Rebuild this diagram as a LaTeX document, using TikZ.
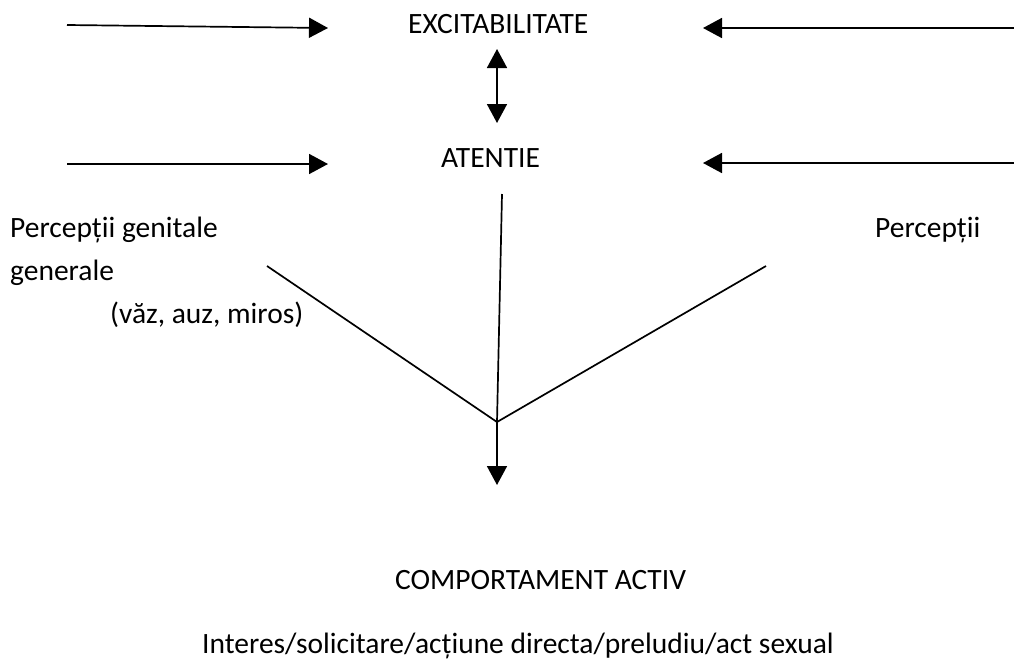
\documentclass[tikz,border=0pt]{standalone}
\usepackage{fontspec}
\setmainfont{Carlito}
\usepackage{tikz}
\usetikzlibrary{arrows.meta, positioning, calc}

\begin{document}
\begin{tikzpicture}[
  x=1pt, y=-1pt,
  lbl/.style={inner sep=0pt, anchor=base west, font=\fontsize{29.5}{34}\selectfont},
  arr/.style={line width=1.7pt, -{Triangle[length=19pt, width=20pt]}},
  dbl/.style={line width=1.7pt, {Triangle[length=19pt, width=20pt]}-{Triangle[length=19pt, width=20pt]}},
  ln/.style={line width=1.7pt}
]
  \useasboundingbox (0,0) rectangle (1014,662);

  % center column
  \node[lbl] (exc) at (408,33) {EXCITABILITATE};
  \node[lbl] (aten) at (441,167) {ATENTIE};
  \node[lbl] (comp) at (395,589) {COMPORTAMENT ACTIV};
  \node[lbl] (act) at (202,653) {Interes/solicitare/acțiune directa/preludiu/act sexual};

  % side labels
  \node[lbl] (percL) at (10,237) {Percepții genitale};
  \node[lbl] (gen) at (10,280) {generale};
  \node[lbl] (simt) at (110,323) {(văz, auz, miros)};
  \node[lbl] (percR) at (875,237) {Percepții};

  % free ends
  \coordinate (inTL) at (67,25);
  \coordinate (inBL) at (67,164);
  \coordinate (inTR) at (1014,28);
  \coordinate (inBR) at (1014,163);
  \coordinate (tipTL) at (328,28);
  \coordinate (tipBL) at (328,164);
  \coordinate (tipTR) at (703,28);
  \coordinate (tipBR) at (703,163);
  \coordinate (down) at (502,194);
  \coordinate (fromL) at (267,266);
  \coordinate (fromR) at (766,266);
  \coordinate (jn) at (497,422);
  \coordinate (out) at (497,485);

  \draw[arr] (inTL) -- (tipTL);
  \draw[arr] (inBL) -- (tipBL);
  \draw[arr] (inTR) -- (tipTR);
  \draw[arr] (inBR) -- (tipBR);
  \draw[dbl] (497,49) -- (497,123);

  \draw[ln] (down) -- (jn);
  \draw[ln] (fromL) -- (jn);
  \draw[ln] (fromR) -- (jn);
  \draw[arr] (jn) -- (out);
\end{tikzpicture}
\end{document}
